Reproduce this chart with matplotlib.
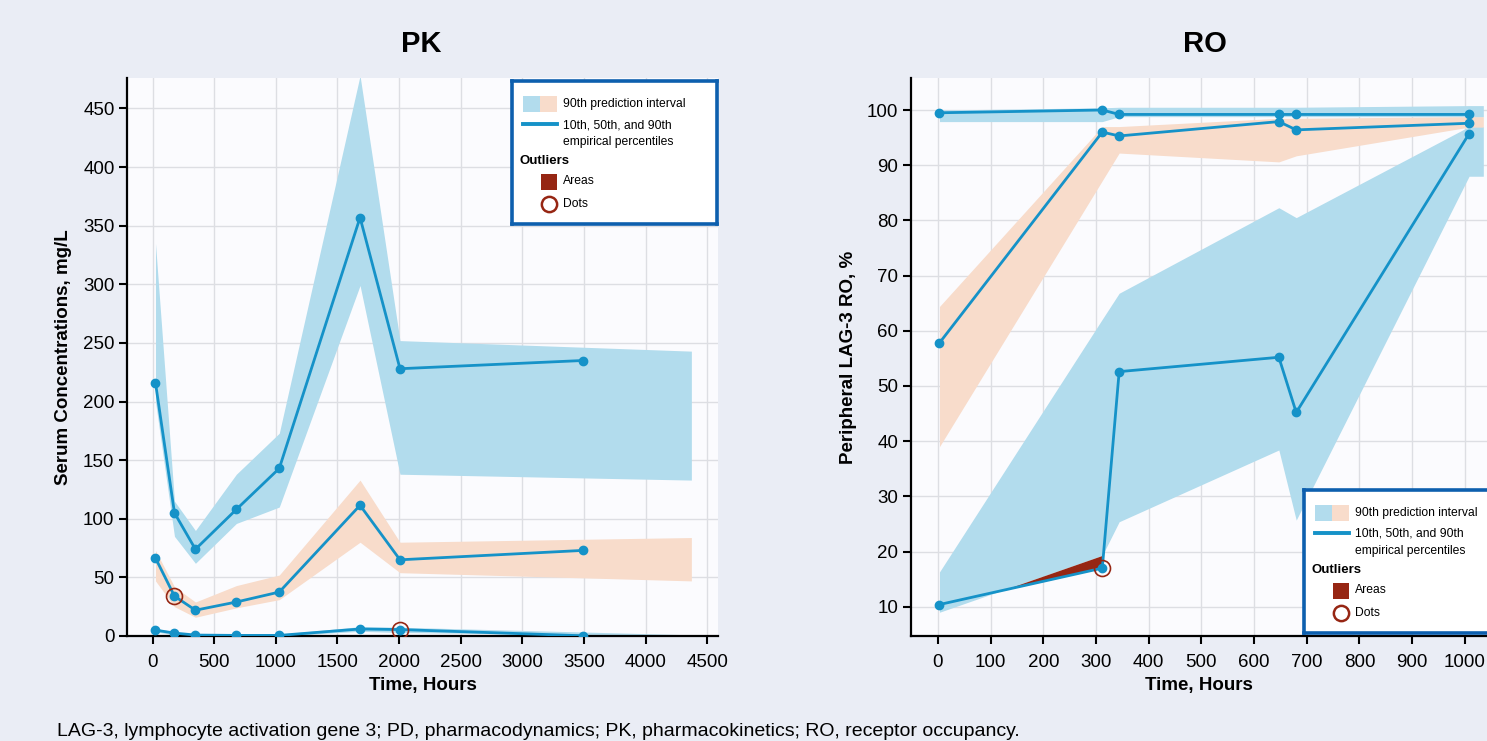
import matplotlib
matplotlib.use('Agg')
import matplotlib.pyplot as plt
from matplotlib.patches import Rectangle
import numpy as np

plt.rcParams['font.family'] = ['Liberation Sans', 'DejaVu Sans']

# ---- PK panel data ----
pk_t = [24, 178, 348, 680, 1028, 1683, 2007, 3488]
pk_p90 = [216, 105, 74, 108, 143, 357, 228, 235]
pk_p50 = [66.5, 34, 22, 29, 37.5, 111.5, 65, 73]
pk_p10 = [5, 2.5, 0.8, 0.5, 0.5, 6, 5.5, 0.2]
pk_pi_t = [24, 178, 348, 680, 1028, 1683, 2007, 4370]
pk_p90_hi = [335, 115, 90, 138, 173, 478, 252, 243]
pk_p90_lo = [200, 85, 62, 96, 110, 299, 138, 133]
pk_p50_hi = [73, 42, 29, 43, 52, 133, 80, 84]
pk_p50_lo = [47, 25, 16, 24, 31, 80, 54, 47]
pk_p10_hi = [6.5, 3.5, 1.5, 1.2, 1.5, 8, 7.5, 1]
pk_p10_lo = [3.5, 1, 0, 0, 0, 4, 3, 0]
pk_dots_t = [178, 2007]
pk_dots_v = [34, 5.5]

# ---- RO panel data ----
ro_t = [3, 312, 344, 647, 680, 1008]
ro_p90 = [99.5, 100.0, 99.2, 99.2, 99.2, 99.2]
ro_p50 = [57.8, 96.0, 95.3, 97.9, 96.4, 97.6]
ro_p10 = [10.4, 17.0, 52.6, 55.2, 45.2, 95.7]
ro_pi_t = [3, 312, 344, 647, 680, 1008, 1035]
ro_p90_hi = [100.0, 100.4, 100.5, 100.5, 100.5, 100.8, 100.8]
ro_p90_lo = [97.9, 97.9, 98.8, 98.8, 98.8, 98.8, 98.8]
ro_p50_hi = [64.4, 97.0, 97.0, 98.5, 98.5, 98.8, 98.8]
ro_p50_lo = [39.0, 87.2, 92.2, 90.6, 91.7, 96.9, 96.9]
ro_p10_hi = [16.3, 62.1, 66.8, 82.3, 80.5, 97.0, 97.0]
ro_p10_lo = [9.0, 19.3, 25.4, 38.4, 25.7, 88.0, 88.0]
ro_dots_t = [312]
ro_dots_v = [17.0]

pk_xticks = [0, 500, 1000, 1500, 2000, 2500, 3000, 3500, 4000, 4500]
pk_yticks = [0, 50, 100, 150, 200, 250, 300, 350, 400, 450]
ro_xticks = [0, 100, 200, 300, 400, 500, 600, 700, 800, 900, 1000]
ro_yticks = [10, 20, 30, 40, 50, 60, 70, 80, 90, 100]

BG = '#eaedf5'
LINE = '#1592c8'
BLUE = '#b2dced'
ORANGE = '#f8dccb'
RED = '#962613'
BORDER = '#0d5fae'
GRID = '#dddee3'

W, H = 1487, 741


def px_box(l, t, r, b):
    return [l / W, 1 - b / H, (r - l) / W, (b - t) / H]


fig = plt.figure(figsize=(W / 100, H / 100), dpi=100, facecolor=BG)


def style_axes(ax):
    ax.set_facecolor('#fbfbfe')
    ax.grid(True, color=GRID, lw=1.0)
    ax.set_axisbelow(True)
    for s in ['top', 'right']:
        ax.spines[s].set_visible(False)
    for s in ['left', 'bottom']:
        ax.spines[s].set_linewidth(1.6)
        ax.spines[s].set_color('black')
    ax.tick_params(direction='out', length=6, width=1.5, labelsize=13.5)
    ax.tick_params(axis='x', pad=7)
    ax.tick_params(axis='y', pad=3)


def draw_panel(ax, t, p10, p50, p90, pit, lo10, hi10, lo50, hi50, lo90, hi90, dt, dv):
    ax.fill_between(pit, lo10, hi10, color=BLUE, lw=0, zorder=1)
    ax.fill_between(pit, lo50, hi50, color=ORANGE, lw=0, zorder=1.1)
    ax.fill_between(pit, lo90, hi90, color=BLUE, lw=0, zorder=1.2)
    for series in (p10, p50, p90):
        ax.plot(t, series, '-o', color=LINE, lw=2.0, ms=6, zorder=3)
    ax.plot(dt, dv, 'o', ms=11.5, mfc='none', mec=RED, mew=1.2, zorder=4)


def draw_legend(left, top):
    w, h = 205, 143
    lax = fig.add_axes(px_box(left, top, left + w, top + h))
    lax.set_xlim(0, w)
    lax.set_ylim(h, 0)
    lax.set_xticks([])
    lax.set_yticks([])
    lax.set_facecolor('white')
    for s in lax.spines.values():
        s.set_color(BORDER)
        s.set_linewidth(2.6)
    fs = 8.7
    lax.add_patch(Rectangle((11, 15), 17, 16, color=BLUE, lw=0))
    lax.add_patch(Rectangle((28, 15), 17, 16, color=ORANGE, lw=0))
    lax.text(51, 23, '90th prediction interval', va='center', fontsize=fs)
    lax.plot([11, 45], [43, 43], color=LINE, lw=2.8)
    lax.text(51, 44, '10th, 50th, and 90th', va='center', fontsize=fs)
    lax.text(51, 61, 'empirical percentiles', va='center', fontsize=fs)
    lax.text(7, 80, 'Outliers', va='center', fontsize=9.5, fontweight='bold')
    lax.add_patch(Rectangle((29, 93), 16, 16, color=RED, lw=0))
    lax.text(51, 100, 'Areas', va='center', fontsize=fs)
    lax.plot([37], [123], 'o', ms=11, mfc='white', mec=RED, mew=1.8)
    lax.text(51, 123, 'Dots', va='center', fontsize=fs)


# PK
ax1 = fig.add_axes(px_box(127, 78, 718, 636))
style_axes(ax1)
draw_panel(ax1, pk_t, pk_p10, pk_p50, pk_p90, pk_pi_t, pk_p10_lo, pk_p10_hi,
           pk_p50_lo, pk_p50_hi, pk_p90_lo, pk_p90_hi, pk_dots_t, pk_dots_v)
ax1.set_xlim(-207, 4586)
ax1.set_ylim(0, 476)
ax1.set_xticks(pk_xticks)
ax1.set_yticks(pk_yticks)
ax1.set_xlabel('Time, Hours', fontsize=13.5, fontweight='bold', labelpad=4)
ax1.set_ylabel('Serum Concentrations, mg/L', fontsize=13.5, fontweight='bold', labelpad=8)

# RO
ax2 = fig.add_axes(px_box(911, 78, W, 636))
style_axes(ax2)
draw_panel(ax2, ro_t, ro_p10, ro_p50, ro_p90, ro_pi_t, ro_p10_lo, ro_p10_hi,
           ro_p50_lo, ro_p50_hi, ro_p90_lo, ro_p90_hi, ro_dots_t, ro_dots_v)
# outlier area where the empirical 10th percentile drops below the interval
xs = np.linspace(ro_t[0], ro_t[1], 200)
lo = np.interp(xs, ro_pi_t, ro_p10_lo)
ln = np.interp(xs, ro_t, ro_p10)
ax2.fill_between(xs, ln, lo, where=lo > ln, interpolate=True, color=RED, lw=0, zorder=2)
ax2.set_xlim(-51, 1042)
ax2.set_ylim(4.7, 105.8)
ax2.set_xticks(ro_xticks)
ax2.set_yticks(ro_yticks)
ax2.set_xlabel('Time, Hours', fontsize=13.5, fontweight='bold', labelpad=4)
ax2.set_ylabel('Peripheral LAG-3 RO, %', fontsize=13.5, fontweight='bold', labelpad=7)

draw_legend(512, 81)
draw_legend(1304, 490)

fig.text(421 / W, 1 - 44 / H, 'PK', ha='center', va='center', fontsize=21, fontweight='bold')
fig.text(1205 / W, 1 - 44 / H, 'RO', ha='center', va='center', fontsize=21, fontweight='bold')
fig.text(57 / W, 1 - 731 / H,
         'LAG-3, lymphocyte activation gene 3; PD, pharmacodynamics; PK, pharmacokinetics; RO, receptor occupancy.',
         ha='left', va='center', fontsize=14)

fig.savefig('out.png', dpi=100, facecolor=BG)
